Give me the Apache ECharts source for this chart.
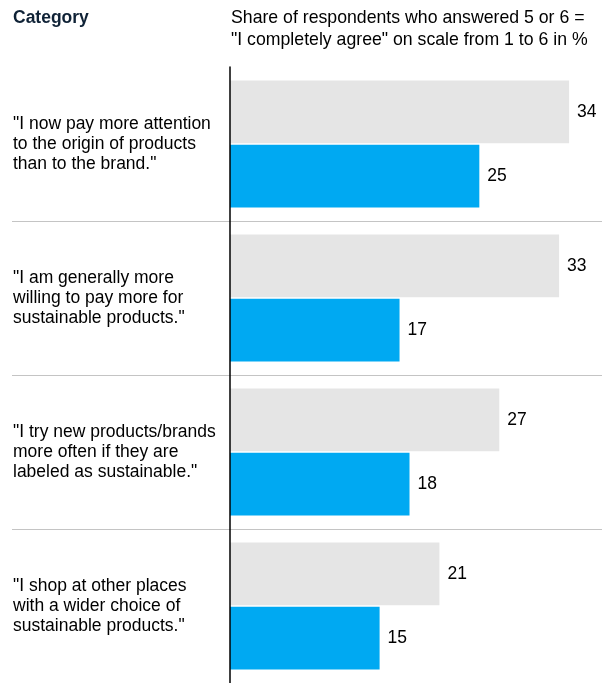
<!DOCTYPE html>
<html>
<head>
<meta charset="utf-8">
<script src="https://cdn.jsdelivr.net/npm/echarts@6/dist/echarts.min.js"></script>
<style>
html,body{margin:0;padding:0;background:#fff;}
#chart{width:602px;height:683px;}
</style>
</head>
<body>
<div id="chart"></div>
<script>
const categories = [
  '"I now pay more attention\nto the origin of products\nthan to the brand."',
  '"I am generally more\nwilling to pay more for\nsustainable products."',
  '"I try new products/brands\nmore often if they are\nlabeled as sustainable."',
  '"I shop at other places\nwith a wider choice of\nsustainable products."'
];
const grayValues = [34, 33, 27, 21];
const blueValues = [25, 17, 18, 15];
const headerTitle = 'Category';
const headerSubtitle = 'Share of respondents who answered 5 or 6 =\n"I completely agree" on scale from 1 to 6 in %';

const FONT = '"Liberation Sans", Arial, sans-serif';
const chart = echarts.init(document.getElementById('chart'));
const labelStyle = {
  show: true, position: 'right', distance: 8,
  color: '#000', fontSize: 17.5, fontFamily: FONT, padding: [3, 0, 0, 0]
};
chart.setOption({
  animation: false,
  backgroundColor: '#fff',
  textStyle: { fontFamily: FONT },
  title: [
    { text: headerTitle, left: 13, top: 8, padding: 0,
      textStyle: { fontSize: 17.5, fontWeight: 'bold', color: '#0f2236', lineHeight: 20, fontFamily: FONT } },
    { text: headerSubtitle, left: 231, top: 7, padding: 0,
      textStyle: { fontSize: 17.7, fontWeight: 'normal', color: '#000', lineHeight: 22, fontFamily: FONT } }
  ],
  grid: [
    { left: 230, right: 3, top: 67, bottom: 0 },
    { left: 12, right: 0, top: 67, bottom: 0 }
  ],
  xAxis: [
    { type: 'value', gridIndex: 0, min: 0, max: 37, show: false },
    { type: 'value', gridIndex: 1, min: 0, max: 1, show: false }
  ],
  yAxis: [
    { type: 'category', gridIndex: 0, data: categories, inverse: true, z: 5,
      axisLine: { show: true, lineStyle: { color: '#000', width: 1.5 } },
      axisTick: { show: false },
      splitLine: { show: false },
      axisLabel: { show: true, align: 'left', margin: 217, fontSize: 17.5, lineHeight: 20,
                   padding: [4, 0, 0, 0], color: '#000', fontFamily: FONT } },
    { type: 'value', gridIndex: 1, min: 0, max: 4, interval: 1, inverse: true, z: 1,
      axisLine: { show: false }, axisTick: { show: false }, axisLabel: { show: false },
      splitLine: { show: true, showMinLine: false, showMaxLine: false,
                   lineStyle: { color: '#c4c4c4', width: 1 } } }
  ],
  series: [
    { name: 'Comparison', type: 'bar', xAxisIndex: 0, yAxisIndex: 0, data: grayValues,
      itemStyle: { color: '#e5e5e5' }, barCategoryGap: '17.5%', barGap: '2%',
      label: labelStyle },
    { name: 'Current', type: 'bar', xAxisIndex: 0, yAxisIndex: 0, data: blueValues,
      itemStyle: { color: '#00a9f2' }, barCategoryGap: '17.5%', barGap: '2%',
      label: labelStyle }
  ]
});
</script>
</body>
</html>
